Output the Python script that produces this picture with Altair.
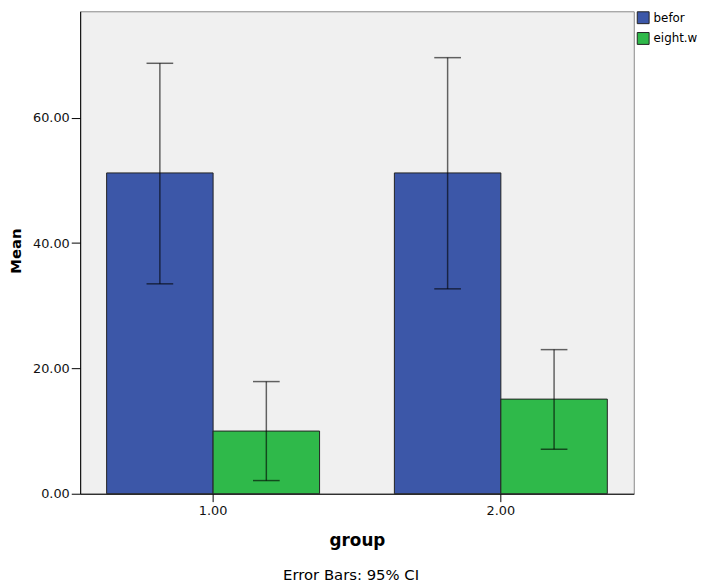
import altair as alt
import pandas as pd

groups = ["1.00", "1.00", "2.00", "2.00"]
series = ["befor", "eight.w", "befor", "eight.w"]
means = [51.2, 10.0, 51.2, 15.1]
ci_low = [33.5, 2.1, 32.7, 7.1]
ci_high = [68.7, 17.9, 69.6, 23.0]
series_order = ["befor", "eight.w"]
series_colors = ["#3c57a8", "#2fb94a"]
y_ticks = [0, 20, 40, 60]
note = ["Error Bars: 95% CI"]

df = pd.DataFrame({"group": groups, "series": series, "mean": means,
                   "lo": ci_low, "hi": ci_high})
note_df = pd.DataFrame({"note": note})

FONT = "DejaVu Sans"

x_enc = alt.X(
    "group:N", title="group",
    scale=alt.Scale(paddingInner=0.26, paddingOuter=0.092),
    axis=alt.Axis(labelAngle=0, labelFont=FONT, labelFontSize=13, labelColor="#111",
                  tickSize=8, tickColor="#000", domainColor="#000", labelPadding=3,
                  titleFont=FONT, titleFontSize=17, titleFontWeight="bold", titleColor="#000",
                  titleBaseline="alphabetic", titleY=52),
)
xo_enc = alt.XOffset("series:N", scale=alt.Scale(domain=series_order, paddingInner=0, paddingOuter=0))
y_scale = alt.Scale(domain=[0, 77], nice=False)
y_axis = alt.Axis(values=y_ticks, format=".2f", grid=False, labelFont=FONT, labelFontSize=13,
                  labelColor="#111", tickSize=9, tickColor="#000", domainColor="#000",
                  labelPadding=2, titleFont=FONT, titleFontSize=15, titleFontWeight="bold",
                  titleColor="#000", titleAngle=270, titleBaseline="alphabetic",
                  titleX=-60, titleY=242)

bars = alt.Chart(df).mark_bar(stroke="#222", strokeWidth=1).encode(
    x=x_enc, xOffset=xo_enc,
    y=alt.Y("mean:Q", title="Mean", scale=y_scale, axis=y_axis),
    color=alt.Color("series:N", scale=alt.Scale(domain=series_order, range=series_colors),
                    legend=alt.Legend(orient="none", legendX=563, legendY=0, title=None,
                                      symbolType="square", symbolSize=144,
                                      symbolStrokeColor="#222", symbolStrokeWidth=1,
                                      symbolOpacity=1, labelFont=FONT, labelFontSize=12,
                                      labelColor="#000", rowPadding=4, padding=0,
                                      labelOffset=4)),
)

rules = alt.Chart(df).mark_rule(color="#000", opacity=0.6, strokeWidth=1.5).encode(
    x=x_enc, xOffset=xo_enc,
    y=alt.Y("lo:Q", title="Mean", scale=y_scale), y2="hi:Q",
)
cap_hi = alt.Chart(df).mark_tick(color="#000", opacity=0.6, thickness=1.5, size=27).encode(
    x=x_enc, xOffset=xo_enc, y=alt.Y("hi:Q", title="Mean", scale=y_scale),
)
cap_lo = alt.Chart(df).mark_tick(color="#000", opacity=0.6, thickness=1.5, size=27).encode(
    x=x_enc, xOffset=xo_enc, y=alt.Y("lo:Q", title="Mean", scale=y_scale),
)
note_text = alt.Chart(note_df).mark_text(font=FONT, fontSize=15, baseline="alphabetic",
                                         align="center", color="#000").encode(
    text="note:N", x=alt.value(274), y=alt.value(575),
)

chart = alt.layer(bars, rules, cap_hi, cap_lo, note_text).properties(
    width=560, height=488,
    autosize=alt.AutoSizeParams(type="none"),
    padding={"left": 73, "top": 0, "right": 69, "bottom": 89},
    background="#ffffff",
).configure_view(fill="#f0f0f0", stroke="#888888", strokeWidth=1)

chart.save("out.html", embed_options={"renderer": "svg", "actions": False})
